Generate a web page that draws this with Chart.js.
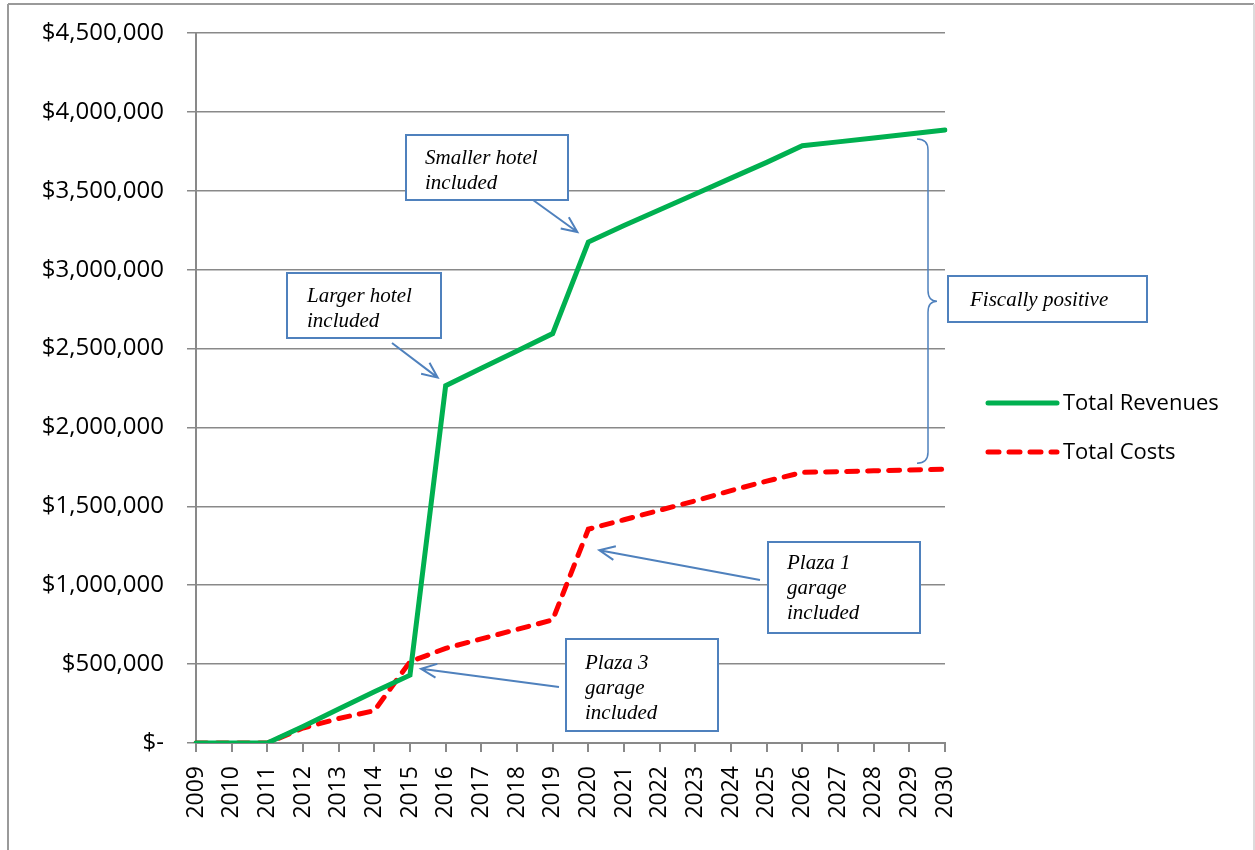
<!DOCTYPE html>
<html>
<head>
<meta charset="utf-8">
<script src="https://cdn.jsdelivr.net/npm/chart.js@4/dist/chart.umd.min.js"></script>
<style>
  html, body { margin: 0; padding: 0; background: #fff; }
  #wrap { position: absolute; left: 0; top: 0; width: 1255px; height: 850px; }
</style>
</head>
<body>
<div id="wrap"><canvas id="c" width="1255" height="850"></canvas></div>
<script>
// ---- data ----
const years = ['2009','2010','2011','2012','2013','2014','2015','2016','2017','2018','2019',
               '2020','2021','2022','2023','2024','2025','2026','2027','2028','2029','2030'];
const totalRevenues = [0, 0, 0, 105000, 215000, 325000, 430000, 2265000, 2375000, 2485000, 2595000,
                       3175000, 3280000, 3380000, 3480000, 3580000, 3680000, 3785000, 3810000, 3835000, 3860000, 3885000];
const totalCosts = [0, 0, 0, 95000, 155000, 205000, 515000, 600000, 660000, 720000, 780000,
                    1355000, 1415000, 1475000, 1535000, 1600000, 1660000, 1715000, 1720000, 1725000, 1730000, 1735000];
const seriesNames = ['Total Revenues', 'Total Costs'];
const yTickValues = [0, 500000, 1000000, 1500000, 2000000, 2500000, 3000000, 3500000, 4000000, 4500000];
const annotationTexts = {
  smaller: ['Smaller hotel', 'included'],
  larger: ['Larger hotel', 'included'],
  fiscal: ['Fiscally positive'],
  plaza1: ['Plaza 1', 'garage', 'included'],
  plaza3: ['Plaza 3', 'garage', 'included']
};

const GRID = '#898989';
const BLUE = '#4F81BD';
const AXIS_FONT = "'Open Sans', 'Noto Sans', sans-serif";
const NOTE_FONT = "italic 21px 'Liberation Serif', 'DejaVu Serif', serif";

function fmtMoney(v) {
  if (v === 0) return '$-';
  return '$' + v.toLocaleString('en-US');
}

function drawArrow(ctx, x1, y1, x2, y2) {
  const ang = Math.atan2(y2 - y1, x2 - x1);
  const len = 17, spread = 0.42;
  ctx.beginPath();
  ctx.moveTo(x1, y1); ctx.lineTo(x2, y2);
  ctx.moveTo(x2 - len * Math.cos(ang - spread), y2 - len * Math.sin(ang - spread));
  ctx.lineTo(x2, y2);
  ctx.lineTo(x2 - len * Math.cos(ang + spread), y2 - len * Math.sin(ang + spread));
  ctx.stroke();
}

function drawBox(ctx, x, y, w, h, lines, tx, ty0, lh) {
  ctx.fillStyle = '#fff';
  ctx.fillRect(x, y, w, h);
  ctx.strokeStyle = BLUE;
  ctx.lineWidth = 2;
  ctx.strokeRect(x, y, w, h);
  ctx.fillStyle = '#000';
  ctx.font = NOTE_FONT;
  ctx.textAlign = 'left';
  ctx.textBaseline = 'middle';
  lines.forEach((t, i) => ctx.fillText(t, tx, ty0 + i * lh));
}

const overlay = {
  id: 'overlay',
  beforeDraw(chart) {
    const ctx = chart.ctx;
    ctx.save();
    ctx.fillStyle = '#fff';
    ctx.fillRect(0, 0, chart.width, chart.height);
    // outer frame
    ctx.lineWidth = 2;
    ctx.strokeStyle = '#9a9a9a';
    ctx.beginPath(); ctx.moveTo(8, 4); ctx.lineTo(1254, 4); ctx.stroke();
    ctx.beginPath(); ctx.moveTo(8, 4); ctx.lineTo(8, 850); ctx.stroke();
    ctx.strokeStyle = '#dcdcdc';
    ctx.beginPath(); ctx.moveTo(1254, 4); ctx.lineTo(1254, 850); ctx.stroke();
    ctx.restore();
  },
  afterDraw(chart) {
    const ctx = chart.ctx;
    const xs = chart.scales.x, ys = chart.scales.y;
    const n = years.length;
    ctx.save();
    ctx.lineWidth = 2;
    ctx.strokeStyle = BLUE;
    ctx.lineCap = 'butt';

    // arrows tied to data points
    const px = i => xs.getPixelForValue(i);
    const py = v => ys.getPixelForValue(v);
    const i2015 = years.indexOf('2015'), i2016 = years.indexOf('2016'), i2020 = years.indexOf('2020');
    drawArrow(ctx, 392, 343, px(i2016) - 8, py(totalRevenues[i2016]) - 8);
    drawArrow(ctx, 533, 200, px(i2020) - 11, py(totalRevenues[i2020]) - 10);
    drawArrow(ctx, 760, 580, px(i2020) + 11, py(totalCosts[i2020]) + 21);
    drawArrow(ctx, 559, 687, px(i2015) + 11, py(totalCosts[i2015]) + 7);

    // boxes
    drawBox(ctx, 406, 135, 162, 65, annotationTexts.smaller, 425, 158, 25);
    drawBox(ctx, 287, 273, 154, 65, annotationTexts.larger, 307, 296, 25);
    drawBox(ctx, 948, 276, 199, 46, annotationTexts.fiscal, 970, 300, 25);
    drawBox(ctx, 768, 542, 152, 91, annotationTexts.plaza1, 787, 563, 25);
    drawBox(ctx, 566, 639, 152, 92, annotationTexts.plaza3, 585, 663, 25);

    // brace between end values
    const xe = px(n - 1);
    const top = py(totalRevenues[n - 1]) + 9;
    const bot = py(totalCosts[n - 1]) - 6;
    const mid = (top + bot) / 2;
    const bx0 = xe - 28, bx1 = xe - 17, bx2 = xe - 8;
    ctx.strokeStyle = BLUE;
    ctx.lineWidth = 1.5;
    ctx.beginPath();
    ctx.moveTo(bx0, top);
    ctx.quadraticCurveTo(bx1, top, bx1, top + 11);
    ctx.lineTo(bx1, mid - 11);
    ctx.quadraticCurveTo(bx1, mid, bx2, mid);
    ctx.quadraticCurveTo(bx1, mid, bx1, mid + 11);
    ctx.lineTo(bx1, bot - 11);
    ctx.quadraticCurveTo(bx1, bot, bx0, bot);
    ctx.stroke();

    // legend
    const ds = chart.data.datasets;
    const legY = [403, 452];
    ds.forEach((d, i) => {
      ctx.strokeStyle = d.borderColor;
      ctx.lineWidth = d.borderWidth;
      ctx.lineCap = d.borderCapStyle || 'butt';
      ctx.setLineDash(d.borderDash || []);
      ctx.beginPath();
      ctx.moveTo(988, legY[i]);
      ctx.lineTo(1057, legY[i]);
      ctx.stroke();
      ctx.setLineDash([]);
      ctx.fillStyle = '#000';
      ctx.font = '22px ' + AXIS_FONT;
      ctx.textAlign = 'left';
      ctx.textBaseline = 'middle';
      ctx.fillText(d.label, 1063, legY[i] + 1);
    });
    ctx.restore();
  }
};

new Chart(document.getElementById('c'), {
  type: 'line',
  data: {
    labels: years,
    datasets: [
      {
        label: seriesNames[0],
        data: totalRevenues,
        borderColor: '#00B050',
        backgroundColor: '#00B050',
        borderWidth: 5,
        pointRadius: 0,
        tension: 0,
        borderCapStyle: 'round',
        borderJoinStyle: 'miter'
      },
      {
        label: seriesNames[1],
        data: totalCosts,
        borderColor: '#FF0000',
        backgroundColor: '#FF0000',
        borderWidth: 5,
        borderDash: [11, 10],
        borderCapStyle: 'round',
        pointRadius: 0,
        tension: 0
      }
    ]
  },
  options: {
    responsive: false,
    animation: false,
    layout: { padding: { left: 0, right: 310, top: 33, bottom: 0 } },
    plugins: { legend: { display: false }, tooltip: { enabled: false } },
    scales: {
      x: {
        type: 'category',
        offset: false,
        grid: { display: true, drawOnChartArea: false, drawTicks: true, tickLength: 9, color: GRID, lineWidth: 2 },
        border: { display: true, color: GRID, width: 2 },
        ticks: {
          autoSkip: false, minRotation: 90, maxRotation: 90, padding: 14,
          color: '#000', font: { family: AXIS_FONT, size: 23 }
        },
        afterFit(scale) { scale.height = 107; }
      },
      y: {
        min: 0, max: 4500000,
        afterBuildTicks(scale) { scale.ticks = yTickValues.map(v => ({ value: v })); },
        grid: { color: GRID, lineWidth: 1.5, tickLength: 9, drawTicks: true },
        border: { display: true, color: GRID, width: 2 },
        ticks: {
          padding: 23, color: '#000', font: { family: AXIS_FONT, size: 24 },
          callback: v => fmtMoney(v)
        },
        afterFit(scale) { scale.width = 196; scale.paddingTop = 15; scale.paddingBottom = 15; }
      }
    }
  },
  plugins: [overlay]
});
</script>
</body>
</html>
